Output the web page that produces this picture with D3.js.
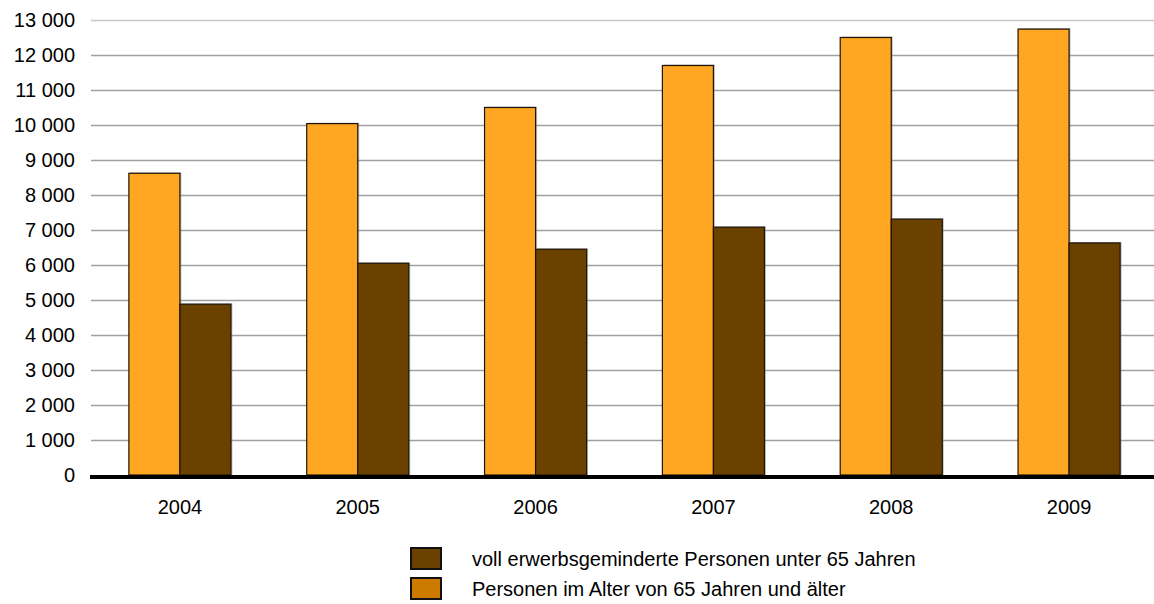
<!DOCTYPE html>
<html>
<head>
<meta charset="utf-8">
<script src="https://cdn.jsdelivr.net/npm/d3@7/dist/d3.min.js"></script>
<style>
  body { margin: 0; background: #fff; }
  svg { display: block; font-family: "Liberation Sans", Arial, sans-serif; }
</style>
</head>
<body>
<svg id="chart"></svg>
<script>
var years = ["2004", "2005", "2006", "2007", "2008", "2009"];
var seriesNames = ["Personen im Alter von 65 Jahren und älter", "voll erwerbsgeminderte Personen unter 65 Jahren"];
var olderValues = [8620, 10040, 10500, 11700, 12500, 12740];
var youngerValues = [4880, 6050, 6450, 7080, 7310, 6630];
var yTicks = [0, 1000, 2000, 3000, 4000, 5000, 6000, 7000, 8000, 9000, 10000, 11000, 12000, 13000];

var svgWidth = 1154, svgHeight = 604;
var margin = { top: 20, right: -4, bottom: 129, left: 91 };
var width = svgWidth - margin.left - margin.right;
var height = svgHeight - margin.top - margin.bottom;

var svg = d3.select("#chart")
    .attr("width", svgWidth)
    .attr("height", svgHeight);

var g = svg.append("g")
    .attr("transform", "translate(" + margin.left + "," + margin.top + ")");

var x0 = d3.scaleBand()
    .domain(years)
    .range([0, width])
    .paddingInner(0.426)
    .paddingOuter(0.213);

var x1 = d3.scaleBand()
    .domain([0, 1])
    .range([0, x0.bandwidth()]);

var y = d3.scaleLinear()
    .domain([0, 13000])
    .range([height, 0]);

var fmt = function(v) { return d3.format(",")(v).replace(/,/g, " "); };

// gridlines
g.append("g")
    .selectAll("line")
    .data(yTicks.filter(function(d) { return d > 0; }))
    .join("line")
    .attr("x1", 0)
    .attr("x2", width)
    .attr("y1", function(d) { return Math.round(y(d)) + 0.5; })
    .attr("y2", function(d) { return Math.round(y(d)) + 0.5; })
    .attr("stroke", function(d) { return d === 13000 ? "#c8c8c8" : "#a0a0a0"; })
    .attr("stroke-width", 1.3);

// y labels
g.append("g")
    .selectAll("text")
    .data(yTicks)
    .join("text")
    .attr("x", -16)
    .attr("y", function(d) { return y(d); })
    .attr("dy", "0.36em")
    .attr("text-anchor", "end")
    .attr("font-size", 20)
    .attr("fill", "#000")
    .text(fmt);

var data = years.map(function(yr, i) {
  return { year: yr, values: [olderValues[i], youngerValues[i]] };
});
var colors = ["#ffa623", "#6b4100"];

var groups = g.append("g")
    .selectAll("g")
    .data(data)
    .join("g")
    .attr("transform", function(d) { return "translate(" + x0(d.year) + ",0)"; });

// faint shadow
groups.selectAll("rect.shadow")
    .data(function(d) { return d.values; })
    .join("rect")
    .attr("class", "shadow")
    .attr("x", function(d, i) { return x1(i) + 1.5; })
    .attr("y", function(d) { return y(d) - 1; })
    .attr("width", x1.bandwidth())
    .attr("height", function(d) { return height - y(d) + 1; })
    .attr("fill", "#888")
    .attr("opacity", 0.5);

groups.selectAll("rect.bar")
    .data(function(d) { return d.values; })
    .join("rect")
    .attr("class", "bar")
    .attr("x", function(d, i) { return x1(i); })
    .attr("y", function(d) { return y(d); })
    .attr("width", x1.bandwidth())
    .attr("height", function(d) { return height - y(d); })
    .attr("fill", function(d, i) { return colors[i]; })
    .attr("stroke", "#1e1408")
    .attr("stroke-width", 1.2);

// baseline
g.append("line")
    .attr("x1", -1)
    .attr("x2", width)
    .attr("y1", height + 2)
    .attr("y2", height + 2)
    .attr("stroke", "#000")
    .attr("stroke-width", 4);

// x labels
g.append("g")
    .selectAll("text")
    .data(years)
    .join("text")
    .attr("x", function(d) { return x0(d) + x0.bandwidth() / 2; })
    .attr("y", height + 39)
    .attr("text-anchor", "middle")
    .attr("font-size", 20)
    .attr("fill", "#000")
    .text(function(d) { return d; });

// legend
var legendItems = [
  { name: seriesNames[1], color: "#6b4100" },
  { name: seriesNames[0], color: "#cc7a00" }
];
var legend = svg.append("g")
    .attr("transform", "translate(411,548)");
var li = legend.selectAll("g")
    .data(legendItems)
    .join("g")
    .attr("transform", function(d, i) { return "translate(0," + (i * 30) + ")"; });
li.append("rect")
    .attr("width", 30)
    .attr("height", 21)
    .attr("fill", function(d) { return d.color; })
    .attr("stroke", "#111")
    .attr("stroke-width", 2);
li.append("text")
    .attr("x", 61)
    .attr("y", 18)
    .attr("font-size", 20)
    .attr("fill", "#000")
    .text(function(d) { return d.name; });
</script>
</body>
</html>
